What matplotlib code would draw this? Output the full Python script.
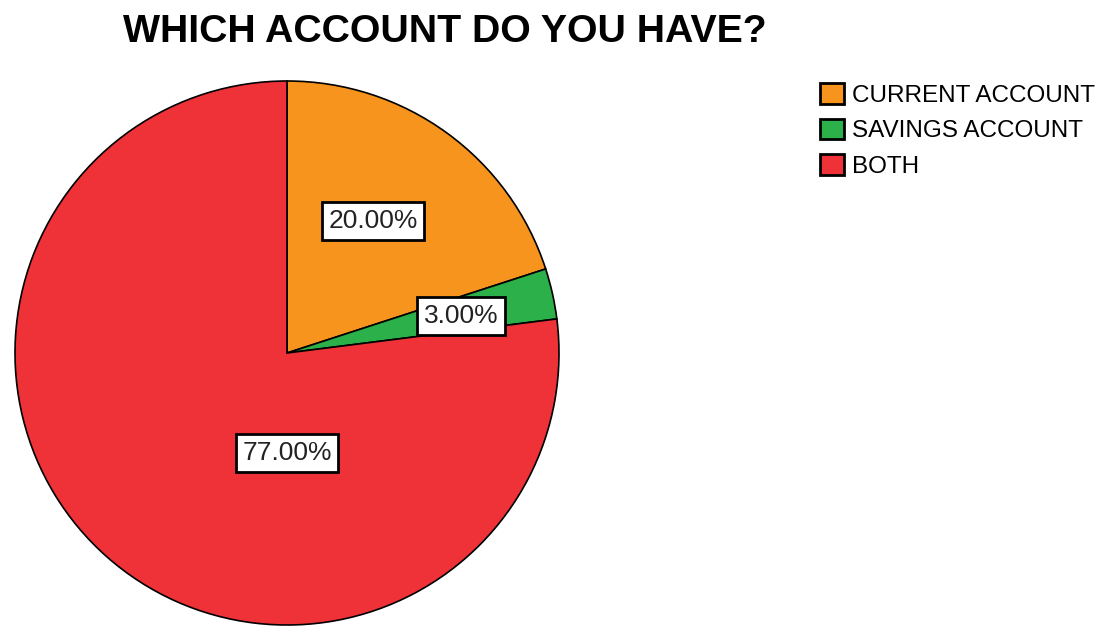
import numpy as np
import matplotlib
matplotlib.use('Agg')
import matplotlib.pyplot as plt
from matplotlib.patches import Patch

plt.rcParams['font.family'] = ['Liberation Sans', 'DejaVu Sans']

categories = ['CURRENT ACCOUNT', 'SAVINGS ACCOUNT', 'BOTH']
shares = [20.0, 3.0, 77.0]
colors = ['#F7941D', '#2BB04A', '#EE3237']

# where each percentage box sits: (angle in degrees, distance from centre)
label_spots = [(56.9, 0.579), (12.0, 0.654), (-90.0, 0.368)]

fig = plt.figure(figsize=(11.15, 6.26), dpi=100)
ax = fig.add_axes([15 / 1115, 1 / 626, 544 / 1115, 544 / 626])

wedges, _ = ax.pie(shares, colors=colors, startangle=90, counterclock=False,
                   radius=1.0, wedgeprops=dict(edgecolor='black', linewidth=1.2))
for w in wedges:
    w.set_clip_on(False)
ax.set_xlim(-1, 1)
ax.set_ylim(-1, 1)
ax.set_aspect('equal')
ax.axis('off')

for val, (ang, dist) in zip(shares, label_spots):
    a = np.deg2rad(ang)
    ax.text(dist * np.cos(a), dist * np.sin(a), '{:.2f}%'.format(val),
            ha='center', va='center', fontsize=19, color='#222222',
            bbox=dict(boxstyle='square,pad=0.25', facecolor='white',
                      edgecolor='black', linewidth=2))

fig.text(445 / 1115, 1 - 32 / 626, 'WHICH ACCOUNT DO YOU HAVE?', ha='center', va='center',
         fontsize=28.3, fontweight='bold', color='black')

handles = [Patch(facecolor=c, edgecolor='black', linewidth=2) for c in colors]
fig.legend(handles, categories, loc='upper left', bbox_to_anchor=(820 / 1115, 1 - 83 / 626),
           frameon=False, fontsize=17.5, handlelength=1.0, handleheight=0.95,
           handletextpad=0.3, labelspacing=0.48, borderpad=0, borderaxespad=0)

fig.savefig('out.png', dpi=100, facecolor='white')
